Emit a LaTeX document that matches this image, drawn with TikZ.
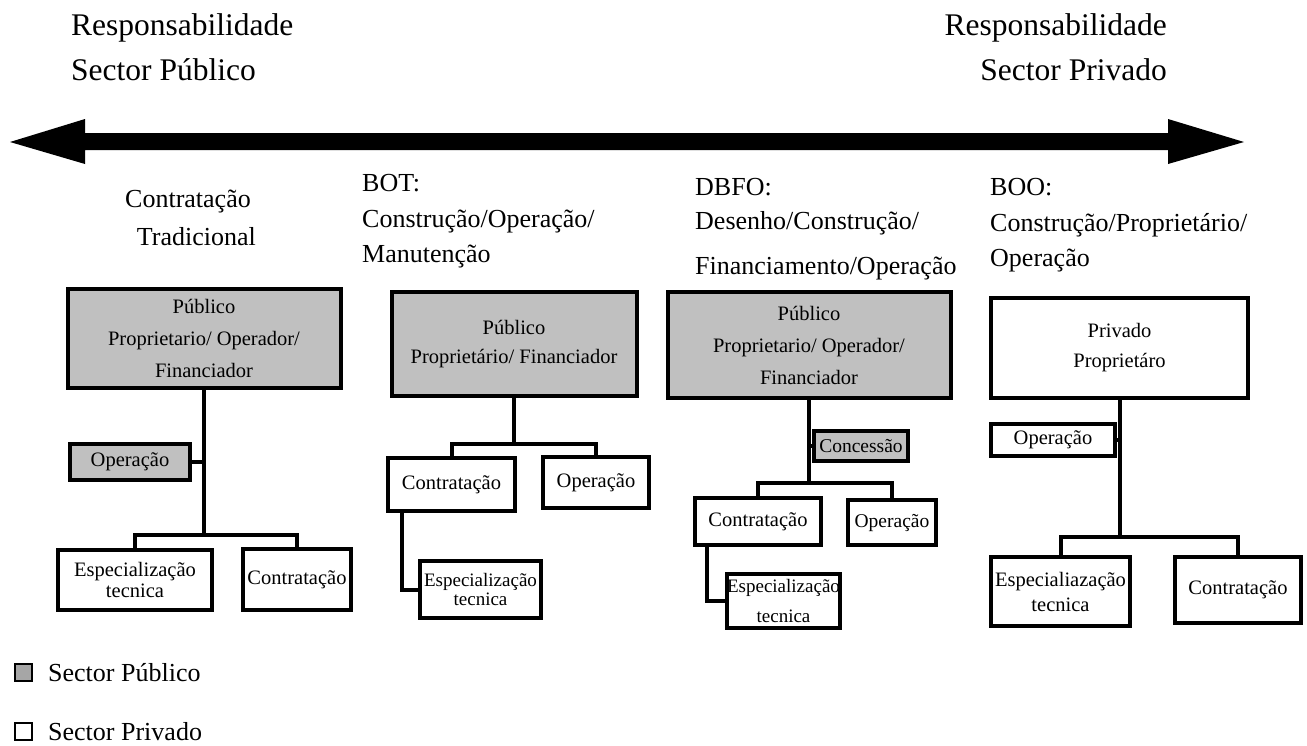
\documentclass[tikz,border=0pt]{standalone}
\usepackage{fontspec}
\setmainfont{Liberation Serif}
\definecolor{boxgray}{HTML}{C0C0C0}
\definecolor{leggray}{HTML}{A6A6A6}
\tikzset{
  box/.style={draw, line width=4pt, rectangle, inner sep=0pt, align=center, font=\fontsize{20.5}{26}\selectfont},
  pub/.style={box, fill=boxgray},
  priv/.style={box, fill=white},
  conn/.style={line width=4pt},
  hdr/.style={inner sep=0pt, font=\fontsize{31.5}{36}\selectfont},
  lbl/.style={inner sep=0pt, font=\fontsize{26}{30}\selectfont},
  legbox/.style={draw, line width=2pt, minimum size=17pt, inner sep=0pt},
}
\begin{document}
\begin{tikzpicture}[x=1pt,y=-1pt]
\useasboundingbox (0,0) rectangle (1307,745);

% headers
\node[hdr, anchor=base west] (h1) at (71,35) {Responsabilidade};
\node[hdr, anchor=base west] (h2) at (71,80) {Sector Público};
\node[hdr, anchor=base east] (h3) at (1167,35) {Responsabilidade};
\node[hdr, anchor=base east] (h4) at (1167,80) {Sector Privado};

% double arrow
\fill (10,142) -- (85,119) -- (85,133) -- (1168,133) -- (1168,119) -- (1244,142)
  -- (1168,164) -- (1168,150) -- (85,150) -- (85,164) -- cycle;

% column labels
\node[lbl, anchor=base west] (l1a) at (125,207) {Contratação};
\node[lbl, anchor=base east] (l1b) at (256,245) {Tradicional};
\node[lbl, anchor=base west] (l2a) at (362,191) {BOT:};
\node[lbl, anchor=base west] (l2b) at (362,227) {Construção/Operação/};
\node[lbl, anchor=base west] (l2c) at (362,262) {Manutenção};
\node[lbl, anchor=base west] (l3a) at (695,195) {DBFO:};
\node[lbl, anchor=base west] (l3b) at (695,229) {Desenho/Construção/};
\node[lbl, anchor=base west] (l3c) at (695,274) {Financiamento/Operação};
\node[lbl, anchor=base west] (l4a) at (990,195) {BOO:};
\node[lbl, anchor=base west] (l4b) at (990,231) {Construção/Proprietário/};
\node[lbl, anchor=base west] (l4c) at (990,266) {Operação};

% ---- column 1
\node[pub, minimum width=273, minimum height=99, font=\fontsize{20.5}{32}\selectfont] (T1) at (204,338.5) {Público\\Proprietario/ Operador/\\Financiador};
\node[pub, minimum width=120, minimum height=36] (O1) at (130,462) {Operação};
\node[priv, minimum width=154, minimum height=60, font=\fontsize{20.5}{21}\selectfont] (E1) at (135,580) {Especialização\\tecnica};
\node[priv, minimum width=108, minimum height=61] (C1) at (297,579.5) {Contratação};
\coordinate (b1) at (204,535);
\draw[conn] (T1.south) -- (b1);
\draw[conn] (E1.north) |- (b1) -| (C1.north);
\draw[conn] (O1.east) -- (O1.east -| b1);

% ---- column 2
\node[pub, minimum width=245, minimum height=104, font=\fontsize{20.5}{29}\selectfont] (T2) at (514,344) {Público\\Proprietário/ Financiador};
\node[priv, minimum width=127, minimum height=53] (C2) at (451.5,484.5) {Contratação};
\node[priv, minimum width=106, minimum height=51] (O2) at (596,482.5) {Operação};
\node[priv, minimum width=121, minimum height=57, font=\fontsize{19}{19}\selectfont] (E2) at (480.5,589.5) {Especialização\\tecnica};
\coordinate (b2) at (514,444);
\draw[conn] (T2.south) -- (b2);
\draw[conn] (C2.north) |- (b2) -| (O2.north);
\draw[conn] ([xshift=-49.5pt]C2.south) |- (E2.west);

% ---- column 3
\node[pub, minimum width=283, minimum height=106, font=\fontsize{20.5}{32}\selectfont] (T3) at (809,345) {Público\\Proprietario/ Operador/\\Financiador};
\node[pub, minimum width=94, minimum height=30, font=\fontsize{19.5}{24}\selectfont] (K3) at (861,446) {Concessão};
\node[priv, minimum width=126, minimum height=47] (C3) at (758,521.5) {Contratação};
\node[priv, minimum width=88, minimum height=45, font=\fontsize{19.5}{24}\selectfont] (O3) at (892,522.5) {Operação};
\node[priv, minimum width=113, minimum height=54, font=\fontsize{19}{30}\selectfont] (E3) at (783.5,601) {Especialização\\tecnica};
\coordinate (b3) at (809,483);
\draw[conn] (T3.south) -- (b3);
\draw[conn] (K3.west) -- (K3.west -| b3);
\draw[conn] (C3.north) |- (b3) -| (O3.north);
\draw[conn] ([xshift=-51pt]C3.south) |- (E3.west);

% ---- column 4
\node[priv, minimum width=257, minimum height=100, font=\fontsize{20.5}{30}\selectfont] (T4) at (1119.5,348) {Privado\\Proprietáro};
\node[priv, minimum width=124, minimum height=32] (O4) at (1053,440) {Operação};
\node[priv, minimum width=139, minimum height=69, font=\fontsize{20.5}{25}\selectfont] (E4) at (1060.5,591.5) {Especialiazação\\tecnica};
\node[priv, minimum width=126, minimum height=66] (C4) at (1238,590) {Contratação};
\coordinate (b4) at (1119.5,537);
\draw[conn] (T4.south) -- (b4);
\draw[conn] (O4.east) -- (O4.east -| b4);
\draw[conn] (E4.north) |- (b4) -| (C4.north);

% legend
\node[legbox, fill=leggray] (LP) at (23,672) {};
\node[lbl, anchor=base west] (LPt) at (48,681) {Sector Público};
\node[legbox, fill=white] (LV) at (23,731) {};
\node[lbl, anchor=base west] (LVt) at (48,740) {Sector Privado};
\end{tikzpicture}
\end{document}
